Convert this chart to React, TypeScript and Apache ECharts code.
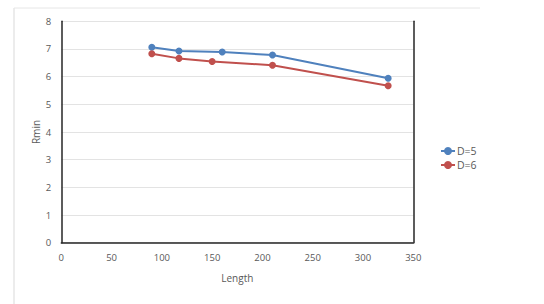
import React, { useEffect, useRef } from "react";
import * as echarts from "echarts";

const lengthD5 = [90, 117, 160, 210, 325];
const rminD5 = [7.06, 6.93, 6.89, 6.78, 5.94];
const lengthD6 = [90, 117, 150, 210, 325];
const rminD6 = [6.83, 6.66, 6.55, 6.41, 5.67];
const seriesNames = ["D=5", "D=6"];

const FONT = "'Open Sans', 'Liberation Sans', sans-serif";

export default function App() {
  const ref = useRef<HTMLDivElement>(null);
  useEffect(() => {
    if (!ref.current) return;
    const chart = echarts.init(ref.current, null, { renderer: "svg" });
    chart.setOption({
      animation: false,
      backgroundColor: "#ffffff",
      textStyle: { fontFamily: FONT },
      grid: { left: 61.3, right: 130.7, top: 21.3, bottom: 61.3 },
      legend: {
        orient: "vertical",
        left: 435,
        top: 140.5,
        itemWidth: 14,
        itemHeight: 10,
        itemGap: 3,
        textStyle: { fontFamily: FONT, fontSize: 10.5, color: "#595959", padding: [0, 0, 0, -3] },
        data: seriesNames,
      },
      xAxis: {
        type: "value",
        min: 0,
        max: 350,
        interval: 50,
        name: "Length",
        nameLocation: "middle",
        nameGap: 30,
        nameMoveOverlap: false,
        nameTextStyle: { fontFamily: FONT, fontSize: 10, color: "#595959" },
        axisLine: { show: true, lineStyle: { color: "#262626", width: 1.5 } },
        axisTick: { show: false },
        axisLabel: { fontFamily: FONT, fontSize: 9.5, color: "#595959", margin: 10 },
        splitLine: { show: false },
      },
      yAxis: [
        {
          type: "value",
          min: 0,
          max: 8,
          interval: 1,
          name: "Rmin",
          nameLocation: "middle",
          nameGap: 20,
          nameMoveOverlap: false,
          nameTextStyle: { fontFamily: FONT, fontSize: 10, color: "#595959" },
          axisLine: { show: true, lineStyle: { color: "#262626", width: 1.5 } },
          axisTick: { show: false },
          axisLabel: { fontFamily: FONT, fontSize: 9.5, color: "#595959", margin: 10 },
          splitLine: { show: true, lineStyle: { color: "#e3e3e3", width: 1 } },
        },
        {
          type: "value",
          min: 0,
          max: 8,
          interval: 1,
          position: "right",
          axisLine: { show: true, lineStyle: { color: "#262626", width: 1.5 } },
          axisTick: { show: false },
          axisLabel: { show: false },
          splitLine: { show: false },
        },
      ],
      graphic: [
        {
          type: "line",
          shape: { x1: 14, y1: 8, x2: 14, y2: 304 },
          style: { stroke: "#d9d9d9", lineWidth: 1 },
        },
        {
          type: "line",
          shape: { x1: 14, y1: 8, x2: 480, y2: 8 },
          style: { stroke: "#e6e6e6", lineWidth: 1 },
        },
      ],
      series: [
        {
          name: seriesNames[0],
          type: "line",
          data: lengthD5.map((x, i) => [x, rminD5[i]]),
          symbol: "circle",
          symbolSize: 7,
          color: "#4F81BD",
          lineStyle: { width: 2, color: "#4F81BD" },
          itemStyle: { color: "#4F81BD" },
        },
        {
          name: seriesNames[1],
          type: "line",
          data: lengthD6.map((x, i) => [x, rminD6[i]]),
          symbol: "circle",
          symbolSize: 7,
          color: "#C0504D",
          lineStyle: { width: 2, color: "#C0504D" },
          itemStyle: { color: "#C0504D" },
        },
      ],
    });
    return () => chart.dispose();
  }, []);
  return <div ref={ref} style={{ width: 544, height: 304, position: "absolute", left: 0, top: 0 }} />;
}
